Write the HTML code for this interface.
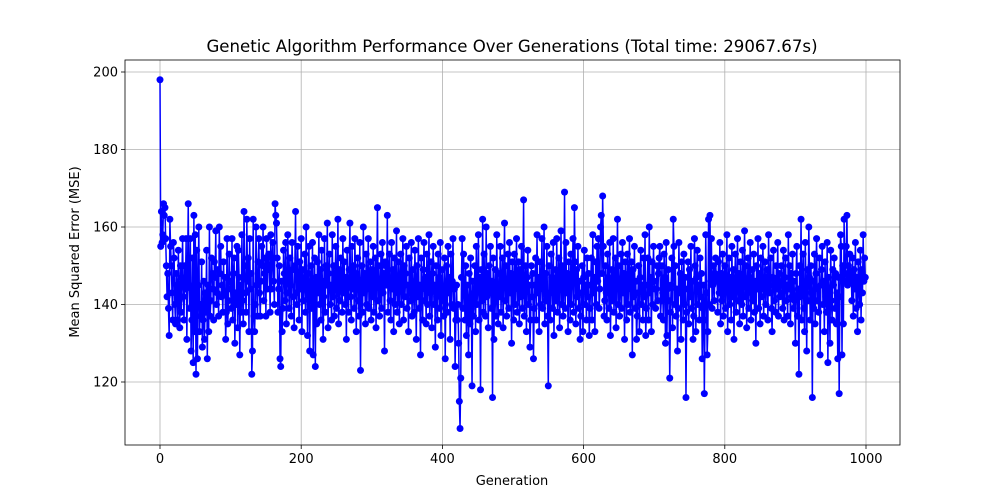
<!DOCTYPE html>
<html><head><meta charset="utf-8"><style>
html,body{margin:0;padding:0;background:#fff;}
svg{display:block;font-family:"DejaVu Sans","Liberation Sans",sans-serif;}
</style></head><body>
<svg id="chart" width="1000" height="500">
<text x="512" y="52" text-anchor="middle" font-size="16.6" fill="#000">Genetic Algorithm Performance Over Generations (Total time: 29067.67s)</text>
<text x="512" y="485" text-anchor="middle" font-size="13" fill="#000">Generation</text>
<text x="0" y="0" transform="translate(79,252) rotate(-90)" text-anchor="middle" font-size="13" fill="#000">Mean Squared Error (MSE)</text>
</svg>
<script>
const xTicks=[0,200,400,600,800,1000];
const yTicks=[120,140,160,180,200];
const mse=[
198,155,164,156,158,166,163,165,157,150,142,148,139,132,162,155,150,143,136,156,
152,140,135,148,145,136,154,141,134,150,138,147,157,142,136,150,144,157,131,147,
166,145,139,157,128,136,152,125,163,133,158,122,154,126,145,160,133,140,137,151,
129,136,146,131,143,138,154,126,145,133,160,137,141,152,148,144,136,151,147,159,
140,143,149,137,160,148,155,142,145,138,151,143,147,131,138,157,135,141,153,146,
144,139,157,136,148,152,130,143,140,155,134,154,147,127,145,138,158,141,135,164,
150,143,138,162,146,152,133,157,144,148,122,128,162,137,133,140,160,145,137,151,
157,143,137,146,155,150,160,141,148,152,137,157,144,150,153,149,138,158,144,152,
156,146,140,166,163,161,152,138,144,150,126,124,146,133,139,154,148,141,156,135,
143,158,147,139,152,145,137,156,149,142,134,150,164,143,140,155,147,136,151,144,
157,133,149,141,145,153,138,160,146,132,148,155,128,144,150,139,156,127,141,152,
124,147,135,151,143,158,140,149,136,154,146,131,142,157,138,150,145,161,134,148,
153,140,145,136,158,142,150,137,147,155,139,144,162,135,149,141,152,146,138,157,
143,151,140,147,131,154,145,138,149,161,142,136,155,144,150,139,157,146,133,148,
152,141,137,156,123,145,150,138,160,143,148,135,153,140,146,157,139,144,151,136,
149,142,155,138,146,152,134,147,165,141,150,137,144,153,139,156,143,148,128,151,
150,145,163,138,147,153,141,136,156,144,149,133,152,140,146,159,138,143,151,135,
147,153,140,145,157,136,150,142,148,155,139,145,133,152,144,141,156,137,149,143,
138,154,146,131,150,142,157,139,145,127,152,144,136,149,156,141,147,135,153,140,
146,158,137,143,151,134,148,155,140,145,129,150,142,136,153,147,139,156,132,144,
149,141,137,152,126,145,150,138,155,143,147,131,153,140,146,157,139,144,124,136,
145,136,140,130,115,108,121,147,157,139,153,144,136,150,132,145,141,127,148,135,
152,139,119,146,137,143,150,133,155,140,144,158,136,147,118,149,141,162,138,153,
145,137,160,142,148,134,150,143,155,139,146,116,152,131,144,149,137,158,142,135,
148,142,155,138,146,152,134,147,161,141,150,137,144,153,139,156,143,148,130,151,
145,136,153,140,147,157,138,144,151,135,149,142,155,139,146,167,137,143,150,133,
147,154,140,145,129,136,150,142,148,126,139,145,152,136,158,143,147,133,151,140,
146,157,139,144,160,135,148,141,155,137,119,150,143,136,153,147,139,156,132,144,
149,141,157,138,145,152,134,147,159,140,150,137,144,169,139,156,143,148,133,151,
145,136,153,140,147,157,138,165,151,135,149,142,155,139,146,131,137,143,150,133,
147,154,140,145,136,152,142,148,132,139,145,152,136,158,143,147,133,151,140,155,
146,157,139,144,160,163,148,168,155,137,141,150,143,136,153,147,139,156,132,144,
149,141,157,138,145,152,134,147,162,140,150,137,144,153,139,156,143,148,131,151,
145,136,153,140,147,157,138,144,151,127,149,142,155,139,146,131,137,143,150,133,
147,154,140,145,136,152,142,158,132,139,145,152,136,160,143,147,133,151,140,155,
146,144,139,144,150,141,148,152,155,137,141,150,143,136,153,147,130,156,132,144,
149,141,121,138,145,152,134,162,155,140,150,137,144,128,139,156,143,148,131,151,
145,136,153,140,147,116,138,144,151,135,149,142,155,139,146,131,137,157,150,133,
147,154,140,145,136,152,142,148,126,139,145,117,136,158,143,127,133,162,140,163,
146,157,139,145,150,141,148,152,146,147,138,151,143,156,135,148,141,153,137,145,
150,139,146,158,133,144,152,140,147,136,155,142,149,131,146,153,138,144,157,141,
148,135,151,143,140,154,137,146,159,142,150,134,145,152,139,147,156,136,143,149,
141,153,138,146,130,150,144,157,139,148,135,152,142,146,155,137,144,151,140,147,
149,136,158,143,145,152,139,133,147,154,141,146,138,150,144,156,137,148,142,145,
150,143,139,154,136,147,152,141,145,137,158,144,150,135,148,142,153,139,146,141,
130,148,155,137,144,122,150,142,162,136,146,153,139,133,156,145,128,149,141,160,
147,136,150,143,116,146,139,153,135,148,157,141,144,138,152,127,145,149,155,140,
146,133,151,142,138,156,125,147,143,130,154,141,136,149,145,152,139,148,135,143,
126,147,117,142,158,155,127,150,135,162,146,148,155,163,145,150,147,153,146,148,
141,152,137,149,144,156,139,147,133,151,145,140,154,136,149,143,158,146,152,147
];
const svgNS="http://www.w3.org/2000/svg";
const svg=document.getElementById('chart');
const L=125,R=900,T=60,B=445;
const xs=v=>160+(v-0)*(866-160)/1000;
const ys=v=>382+(v-120)*(72-382)/80;
function mk(tag,attrs){const e=document.createElementNS(svgNS,tag);for(const k in attrs)e.setAttribute(k,attrs[k]);svg.appendChild(e);return e;}
xTicks.forEach(t=>{
  const g=mk('line',{x1:xs(t),x2:xs(t),y1:T,y2:B,stroke:'#b0b0b0','stroke-width':0.8});
  
  
  const tk=mk('line',{x1:xs(t),x2:xs(t),y1:B,y2:B+4,stroke:'#000','stroke-width':0.8});
  
  
  const tx=mk('text',{x:xs(t),y:B+18,'text-anchor':'middle','font-size':13});
  tx.textContent=t;
  
  
});
yTicks.forEach(t=>{
  const g=mk('line',{x1:L,x2:R,y1:ys(t),y2:ys(t),stroke:'#b0b0b0','stroke-width':0.8});
  
  
  const tk=mk('line',{x1:L-4,x2:L,y1:ys(t),y2:ys(t),stroke:'#000','stroke-width':0.8});
  
  
  const tx=mk('text',{x:L-7,y:ys(t)+4.5,'text-anchor':'end','font-size':13});
  tx.textContent=t;
  
  
});
const pts=mse.map((v,i)=>xs(i).toFixed(2)+','+ys(v).toFixed(2)).join(' ');
const line=mk('polyline',{points:pts,fill:'none',stroke:'#0000ff','stroke-width':1.5});


mse.forEach((v,i)=>{
  const c=mk('circle',{cx:xs(i),cy:ys(v),r:3.5,fill:'#0000ff'});
  
  
});
const fr=mk('rect',{x:L,y:T,width:R-L,height:B-T,fill:'none',stroke:'#000','stroke-width':0.8});


</script>
</body></html>
